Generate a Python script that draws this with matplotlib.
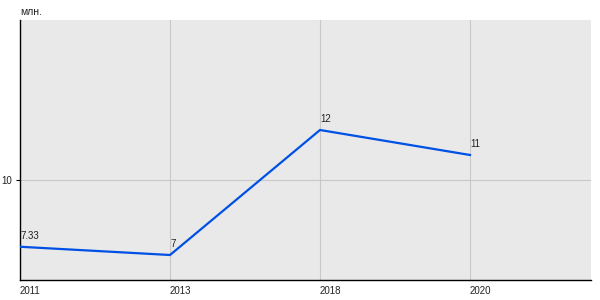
import matplotlib
matplotlib.use('Agg')
import matplotlib.pyplot as plt

years = ['2011', '2013', '2018', '2020']
values = [7.33, 7, 12, 11]
value_labels = ['7.33', '7', '12', '11']

plt.rcParams['font.family'] = ['Liberation Sans', 'DejaVu Sans']

fig = plt.figure(figsize=(6, 3), dpi=100)
ax = fig.add_axes([20 / 600, 20 / 300, 571 / 600, 260 / 300])
ax.set_facecolor('#e9e9e9')

x = list(range(len(years)))
ax.plot(x, values, color='#0050e6', lw=1.6, solid_joinstyle='miter', zorder=3)
for xi, v, lab in zip(x, values, value_labels):
    ax.annotate(lab, (xi, v), xytext=(0, 4), textcoords='offset points',
                ha='left', va='bottom', fontsize=7, color='#222222')

ax.set_xlim(0, 571 / 150)
ax.set_ylim(6, 16.4)

ax.set_xticks(x)
ax.set_xticklabels(years, ha='left', fontsize=7, color='#222222')
ax.set_yticks([10])
ax.set_yticklabels(['10'], fontsize=7, color='#222222')
ax.tick_params(axis='x', length=0, pad=4)
ax.tick_params(axis='y', length=3, width=0.8, pad=3)
ax.grid(True, color='#c8c8c8', lw=0.8)
ax.set_axisbelow(True)

for s in ['top', 'right']:
    ax.spines[s].set_visible(False)
for s in ['left', 'bottom']:
    ax.spines[s].set_color('black')
    ax.spines[s].set_linewidth(1)

fig.text(20 / 600, 1 - 12 / 300, 'млн.', fontsize=7.5, color='#222222', va='center', ha='left')

fig.savefig('out.png', dpi=100, facecolor='white')
